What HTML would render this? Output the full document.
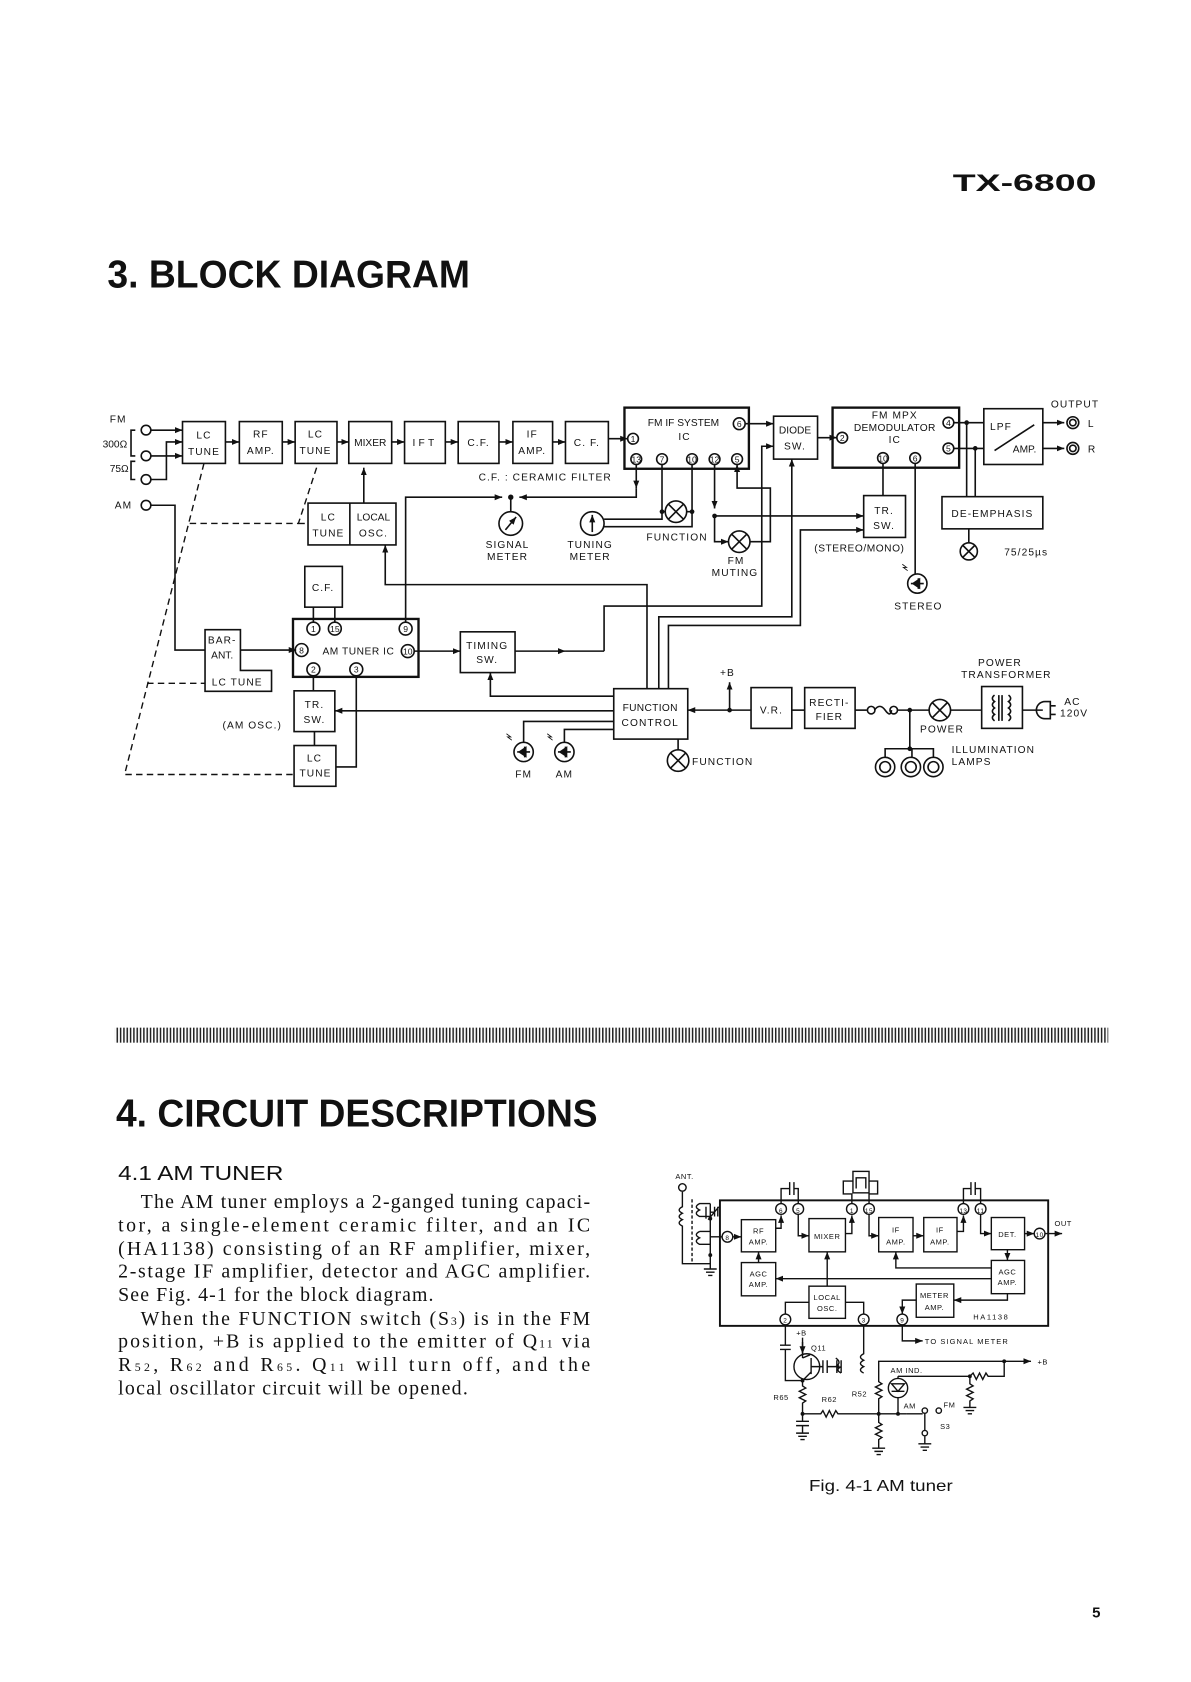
<!DOCTYPE html>
<html><head><meta charset="utf-8"><style>
html,body{margin:0;padding:0;background:#fff;}
svg{display:block;}
text{font-family:"Liberation Sans",sans-serif;fill:#111;}
.l{font-size:9.5px;letter-spacing:1px;text-anchor:middle;font-weight:500;}
.s{font-size:8px;text-anchor:middle;}
</style></head><body>
<svg width="1191" height="1682" viewBox="0 0 1110 1568" xmlns="http://www.w3.org/2000/svg">
<defs>
<marker id="a" viewBox="0 0 10 10" refX="10" refY="5" markerWidth="7" markerHeight="7" markerUnits="userSpaceOnUse" orient="auto"><path d="M0,1 L10,5 L0,9z" fill="#111"/></marker>
<pattern id="bar" width="3.1" height="20" patternUnits="userSpaceOnUse"><rect x="0" y="0" width="1.4" height="20" fill="#222"/></pattern>
</defs>
<rect width="1110" height="1568" fill="#fff"/>

<text x="888" y="178" font-size="22" font-weight="bold" textLength="134" lengthAdjust="spacingAndGlyphs">TX-6800</text>
<text x="100" y="268" font-size="36" font-weight="bold" textLength="338" lengthAdjust="spacingAndGlyphs">3. BLOCK DIAGRAM</text>

<g fill="none" stroke="#111" stroke-width="1.5">
<rect x="170" y="393" width="40" height="39"/>
<rect x="223" y="393" width="40" height="39"/>
<rect x="275" y="393" width="39" height="39"/>
<rect x="325" y="393" width="40" height="39"/>
<rect x="377" y="393" width="38" height="39"/>
<rect x="427" y="393" width="38" height="39"/>
<rect x="478" y="393" width="37" height="39"/>
<rect x="527" y="393" width="40" height="39"/>
<rect x="582" y="380" width="116" height="57" stroke-width="2.2"/>
<rect x="721" y="388" width="41" height="40"/>
<rect x="776" y="380" width="118" height="56" stroke-width="2.2"/>
<rect x="917" y="381" width="55" height="52"/>
<line x1="927" y1="420" x2="964" y2="396"/>
<rect x="878" y="463" width="94" height="30"/>
<rect x="805" y="462" width="39" height="39"/>
<circle cx="136" cy="401" r="4.5"/><circle cx="136" cy="425" r="4.5"/><circle cx="136" cy="447" r="4.5"/>
<circle cx="136" cy="471" r="4.5"/>
<path d="M126,401 h-4 v24 h4 M126,430 h-4 v17 h4"/>
<line x1="141" y1="401" x2="170" y2="401" marker-end="url(#a)"/>
<line x1="141" y1="425" x2="170" y2="425" marker-end="url(#a)"/>
<path d="M141,447 h14 v-35 h15" marker-end="url(#a)"/>
<line x1="210" y1="412" x2="223" y2="412" marker-end="url(#a)"/>
<line x1="263" y1="412" x2="275" y2="412" marker-end="url(#a)"/>
<line x1="314" y1="412" x2="325" y2="412" marker-end="url(#a)"/>
<line x1="365" y1="412" x2="377" y2="412" marker-end="url(#a)"/>
<line x1="415" y1="412" x2="427" y2="412" marker-end="url(#a)"/>
<line x1="465" y1="412" x2="478" y2="412" marker-end="url(#a)"/>
<line x1="515" y1="412" x2="527" y2="412" marker-end="url(#a)"/>
<line x1="567" y1="409" x2="585" y2="409" marker-end="url(#a)"/>
<circle cx="590" cy="409" r="5"/><circle cx="689" cy="395" r="5.5"/>
<circle cx="593" cy="428" r="5"/><circle cx="617" cy="428" r="5"/><circle cx="645" cy="428" r="5"/><circle cx="666" cy="428" r="5"/><circle cx="687" cy="428" r="5"/>
<line x1="695" y1="395" x2="721" y2="395" marker-end="url(#a)"/>
<line x1="762" y1="408" x2="780" y2="408" marker-end="url(#a)"/>
<circle cx="785" cy="408" r="5"/><circle cx="884" cy="394" r="5"/><circle cx="884" cy="418" r="5"/><circle cx="823" cy="427" r="5"/><circle cx="853" cy="427" r="5"/>
<line x1="889" y1="394" x2="917" y2="394"/><line x1="889" y1="418" x2="917" y2="418"/>
<line x1="901" y1="394" x2="901" y2="463"/><line x1="909" y1="418" x2="909" y2="463"/>
<line x1="972" y1="394" x2="992" y2="394" marker-end="url(#a)"/>
<line x1="972" y1="418" x2="992" y2="418" marker-end="url(#a)"/>
<circle cx="1000" cy="394" r="5.5"/><circle cx="1000" cy="394" r="3"/>
<circle cx="1000" cy="418" r="5.5"/><circle cx="1000" cy="418" r="3"/>
<line x1="903" y1="493" x2="903" y2="506"/>
<circle cx="903" cy="514" r="8"/><path d="M897.3,508.3 l11.4,11.4 M908.7,508.3 l-11.4,11.4"/>
<line x1="823" y1="432" x2="823" y2="462"/>
<line x1="853" y1="432" x2="853" y2="535"/>
<circle cx="855" cy="544" r="9"/><path d="M849,544 h12 M856,539 v10 M851,544 l6,-4 v8z" fill="#111"/>
<path d="M846,532 l-4,-3 l3,0 l-4,-3" stroke-width="0.8"/>
<line x1="593" y1="433" x2="593" y2="455" marker-end="url(#a)"/>
<path d="M593,455 V463.5 H484" marker-end="url(#a)"/>
<path d="M378,580 V463.5 H468" marker-end="url(#a)"/>
<line x1="476" y1="463.5" x2="476" y2="477"/>
<circle cx="476" cy="488" r="11"/><line x1="471" y1="494" x2="481" y2="482" marker-end="url(#a)"/>
<circle cx="552" cy="488" r="11"/><line x1="552" y1="496" x2="552" y2="480" marker-end="url(#a)"/>
<path d="M617,433 V484 H563"/>
<path d="M645,433 V491 H562"/>
<line x1="617" y1="477" x2="620" y2="477"/><line x1="640" y1="477" x2="645" y2="477"/>
<circle cx="630" cy="477" r="10"/><path d="M623,470 l14,14 M637,470 l-14,14"/>
<line x1="666" y1="433" x2="666" y2="474" marker-end="url(#a)"/>
<line x1="666" y1="481" x2="805" y2="481" marker-end="url(#a)"/>
<path d="M666,481 V505 H679" marker-end="url(#a)"/>
<circle cx="689" cy="505" r="10"/><path d="M682,498 l14,14 M696,498 l-14,14"/>
<path d="M699,505 H718 V455 H687 V433" marker-end="url(#a)"/>
<path d="M563,607 V565 H710 V416 H721" marker-end="url(#a)"/>
<line x1="480" y1="607" x2="527" y2="607" marker-end="url(#a)"/>
<line x1="527" y1="607" x2="563" y2="607"/>
<path d="M614,642 V575 H738 V428" marker-end="url(#a)"/>
<path d="M623,642 V583 H746 V494 H805" marker-end="url(#a)"/>
<path d="M603,642 V545 H359 V508" marker-end="url(#a)"/>
<path d="M141,471 H163 V606 H191"/>
<path d="M191,587 H224 V625 H253 V644.5 H191Z"/>
<line x1="224" y1="606" x2="276" y2="606" marker-end="url(#a)"/>
<rect x="273" y="577" width="117" height="54" stroke-width="2.2"/>
<circle cx="292" cy="586" r="6"/><circle cx="312" cy="586" r="6"/><circle cx="378" cy="586" r="6"/>
<circle cx="281" cy="606" r="6"/><circle cx="380" cy="607" r="6"/>
<circle cx="292" cy="624" r="6"/><circle cx="332" cy="624" r="6"/>
<rect x="284" y="528" width="35" height="38"/>
<line x1="292" y1="566" x2="292" y2="580"/><line x1="312" y1="566" x2="312" y2="580"/>
<line x1="386" y1="607" x2="429" y2="607" marker-end="url(#a)"/>
<rect x="429" y="589" width="51" height="38"/>
<rect x="287" y="469" width="82" height="39"/><line x1="326" y1="469" x2="326" y2="508"/>
<line x1="339" y1="469" x2="339" y2="436" marker-end="url(#a)"/>
<rect x="274" y="644" width="38" height="38"/>
<rect x="274" y="695" width="39" height="38"/>
<line x1="292" y1="630" x2="292" y2="644"/><line x1="293" y1="682" x2="293" y2="695"/>
<path d="M332,630 V715 H313"/>
<g stroke-dasharray="6,4" stroke-width="1.3">
<path d="M190,432 L116,722 H274"/>
<path d="M295,436 L278,488 H176"/>
<line x1="278" y1="488" x2="287" y2="488"/>
<line x1="137" y1="637" x2="191" y2="637"/>
</g>
<rect x="572" y="642" width="69" height="47"/>
<path d="M572,649 H457 V627" marker-end="url(#a)"/>
<line x1="572" y1="662.6" x2="312" y2="662.6" marker-end="url(#a)"/>
<path d="M572,672.5 H488 V692"/>
<path d="M572,680 H526 V692"/>
<circle cx="488" cy="701" r="9"/><path d="M482,701 h12 M489,696 v10 M484,701 l6,-4 v8z" fill="#111"/>
<circle cx="526" cy="701" r="9"/><path d="M520,701 h12 M527,696 v10 M522,701 l6,-4 v8z" fill="#111"/>
<path d="M477,690 l-4,-3 l3,0 l-4,-3 M515,690 l-4,-3 l3,0 l-4,-3" stroke-width="0.8"/>
<line x1="632" y1="689" x2="632" y2="699"/>
<circle cx="632" cy="709" r="10"/><path d="M625,702 l14,14 M639,702 l-14,14"/>
<line x1="700" y1="662" x2="641" y2="662" marker-end="url(#a)"/>
<line x1="680" y1="662" x2="680" y2="636" marker-end="url(#a)"/>
<rect x="700" y="641" width="38" height="38"/>
<rect x="750" y="641" width="47" height="38"/>
<line x1="738" y1="662" x2="750" y2="662"/>
<line x1="797" y1="662" x2="808" y2="662"/>
<circle cx="812" cy="662" r="3.5"/><circle cx="833" cy="662" r="3.5"/>
<path d="M815,662 q5,-7 10,0 t6,0"/>
<line x1="836.5" y1="662" x2="866" y2="662"/>
<circle cx="876" cy="662" r="10"/><path d="M869,655 l14,14 M883,655 l-14,14"/>
<line x1="886" y1="662" x2="915" y2="662"/>
<rect x="915" y="640" width="38" height="39"/>
<path d="M927,648 q-4,3 0,6 q-4,3 0,6 q-4,3 0,6 q-4,3 0,6 M931,648 v24 M934,648 v24 M940,648 q4,3 0,6 q4,3 0,6 q4,3 0,6 q4,3 0,6"/>
<line x1="953" y1="662" x2="972" y2="662"/>
<path d="M979,654 h-5 a8,8 0 0 0 0,16 h5 Z M979,658 h5 M979,666 h5"/>
<path d="M848,662 V698 M825,706 V698 H870 V706"/>
<line x1="850" y1="698" x2="850" y2="706"/>
<circle cx="825" cy="715" r="9"/><circle cx="849" cy="715" r="9"/><circle cx="870" cy="715" r="9"/>
<circle cx="825" cy="715" r="5"/><circle cx="849" cy="715" r="5"/><circle cx="870" cy="715" r="5"/>
</g>
<g fill="#111">
<circle cx="901" cy="394" r="2.2"/><circle cx="909" cy="418" r="2.2"/>
<circle cx="476" cy="463.5" r="2.5"/><circle cx="617" cy="477" r="2.2"/><circle cx="645" cy="477" r="2.2"/>
<circle cx="666" cy="481" r="2.2"/><circle cx="680" cy="662" r="2.2"/><circle cx="848" cy="662" r="2.2"/><circle cx="848" cy="698" r="2.2"/>
</g>
<g class="l">
<text x="190" y="409">LC</text><text x="190" y="424">TUNE</text>
<text x="243" y="408">RF</text><text x="243" y="423">AMP.</text>
<text x="294" y="408">LC</text><text x="294" y="423">TUNE</text>
<text x="345" y="416" letter-spacing="0">MIXER</text>
<text x="396" y="416" letter-spacing="3">IFT</text>
<text x="446" y="416">C.F.</text>
<text x="496" y="408">IF</text><text x="496" y="423">AMP.</text>
<text x="547" y="416">C. F.</text>
<text x="637" y="397" letter-spacing="0">FM IF SYSTEM</text><text x="638" y="410">IC</text>
<text x="741" y="404" letter-spacing="0">DIODE</text><text x="741" y="419">SW.</text>
<text x="834" y="390">FM MPX</text><text x="834" y="402" letter-spacing="0.3">DEMODULATOR</text><text x="834" y="413">IC</text>
<text x="933" y="401">LPF</text><text x="955" y="422" letter-spacing="0">AMP.</text>
<text x="1002" y="380">OUTPUT</text>
<text x="1014" y="398" text-anchor="start">L</text><text x="1014" y="422" text-anchor="start">R</text>
<text x="925" y="482">DE-EMPHASIS</text>
<text x="936" y="518" text-anchor="start">75/25µs</text>
<text x="824" y="479">TR.</text><text x="824" y="493">SW.</text>
<text x="801" y="514" letter-spacing="0.5">(STEREO/MONO)</text>
<text x="856" y="568">STEREO</text>
<text x="446" y="448" text-anchor="start">C.F. : CERAMIC FILTER</text>
<text x="473" y="511">SIGNAL</text><text x="473" y="522">METER</text>
<text x="550" y="511">TUNING</text><text x="550" y="522">METER</text>
<text x="631" y="504">FUNCTION</text>
<text x="686" y="526">FM</text><text x="685" y="537">MUTING</text>
<text x="110" y="394">FM</text>
<text x="107" y="417" letter-spacing="0">300Ω</text>
<text x="111" y="440" letter-spacing="0">75Ω</text>
<text x="115" y="474">AM</text>
<text x="306" y="485">LC</text><text x="306" y="500">TUNE</text>
<text x="348" y="485" letter-spacing="0">LOCAL</text><text x="348" y="500">OSC.</text>
<text x="301" y="551">C.F.</text>
<text x="207" y="600">BAR-</text><text x="207" y="614" letter-spacing="0">ANT.</text>
<text x="221" y="639">LC TUNE</text>
<text x="334" y="610" letter-spacing="0.5">AM TUNER IC</text>
<text x="454" y="605">TIMING</text><text x="454" y="618">SW.</text>
<text x="293" y="660">TR.</text><text x="293" y="674">SW.</text>
<text x="293" y="710">LC</text><text x="294" y="724">TUNE</text>
<text x="235" y="679">(AM OSC.)</text>
<text x="488" y="725">FM</text><text x="526" y="725">AM</text>
<text x="606" y="663" letter-spacing="0.3">FUNCTION</text><text x="606" y="677">CONTROL</text>
<text x="645" y="713" text-anchor="start">FUNCTION</text>
<text x="678" y="630">+B</text>
<text x="719" y="665">V.R.</text>
<text x="773" y="658">RECTI-</text><text x="773" y="671">FIER</text>
<text x="932" y="621">POWER</text><text x="938" y="632">TRANSFORMER</text>
<text x="878" y="683">POWER</text>
<text x="992" y="657" text-anchor="start">AC</text><text x="988" y="668" text-anchor="start">120V</text>
<text x="887" y="702" text-anchor="start">ILLUMINATION</text><text x="887" y="713" text-anchor="start">LAMPS</text>
</g>
<g font-size="8" text-anchor="middle">
<text x="590" y="412">1</text><text x="689" y="398">6</text>
<text x="593" y="431">13</text><text x="617" y="431">7</text><text x="645" y="431">10</text><text x="666" y="431">12</text><text x="687" y="431">5</text>
<text x="785" y="411">2</text><text x="884" y="397">4</text><text x="884" y="421">5</text><text x="823" y="430">10</text><text x="853" y="430">6</text>
<text x="292" y="589">1</text><text x="312" y="589">15</text><text x="378" y="589">9</text><text x="281" y="609">8</text><text x="380" y="610">10</text>
<text x="292" y="627">2</text><text x="332" y="627">3</text>
</g>

<rect x="107" y="958" width="926" height="14" fill="url(#bar)"/>

<text x="108" y="1050" font-size="36" font-weight="bold" textLength="449" lengthAdjust="spacingAndGlyphs">4. CIRCUIT DESCRIPTIONS</text>
<text x="110" y="1100" font-size="19" textLength="154" lengthAdjust="spacingAndGlyphs">4.1  AM TUNER</text>
<g style="font-family:'Liberation Serif',serif;font-size:18.5px;">
<text style="font-family:'Liberation Serif',serif" x="131" y="1126" textLength="419" lengthAdjust="spacing">The AM tuner employs a 2-ganged tuning capaci-</text>
<text style="font-family:'Liberation Serif',serif" x="110" y="1148" textLength="440" lengthAdjust="spacing">tor, a single-element ceramic filter, and an IC</text>
<text style="font-family:'Liberation Serif',serif" x="110" y="1170" textLength="440" lengthAdjust="spacing">(HA1138) consisting of an RF amplifier, mixer,</text>
<text style="font-family:'Liberation Serif',serif" x="110" y="1191" textLength="440" lengthAdjust="spacing">2-stage IF amplifier, detector and AGC amplifier.</text>
<text style="font-family:'Liberation Serif',serif" x="110" y="1213" textLength="294" lengthAdjust="spacing">See Fig. 4-1 for the block diagram.</text>
<text style="font-family:'Liberation Serif',serif" x="131" y="1235" textLength="419" lengthAdjust="spacing">When the FUNCTION switch (S<tspan font-size="11">3</tspan>) is in the FM</text>
<text style="font-family:'Liberation Serif',serif" x="110" y="1256" textLength="440" lengthAdjust="spacing">position, +B is applied to the emitter of Q<tspan font-size="11">11</tspan> via</text>
<text style="font-family:'Liberation Serif',serif" x="110" y="1278" textLength="440" lengthAdjust="spacing">R<tspan font-size="11">52</tspan>, R<tspan font-size="11">62</tspan> and R<tspan font-size="11">65</tspan>.  Q<tspan font-size="11">11</tspan> will turn off, and the</text>
<text style="font-family:'Liberation Serif',serif" x="110" y="1300" textLength="326" lengthAdjust="spacing">local oscillator circuit will be opened.</text>
</g>

<g fill="none" stroke="#111" stroke-width="1.3">
<rect x="671" y="1119" width="306" height="117" stroke-width="1.8"/>
<rect x="691" y="1137" width="32" height="30"/>
<rect x="691" y="1177" width="32" height="31"/>
<rect x="754" y="1136" width="34" height="31"/>
<rect x="754" y="1199" width="34" height="30"/>
<rect x="819" y="1135" width="32" height="32"/>
<rect x="861" y="1135" width="31" height="32"/>
<rect x="924" y="1135" width="31" height="30"/>
<rect x="924" y="1175" width="31" height="31"/>
<rect x="854" y="1197" width="35" height="31"/>
<circle cx="728" cy="1127" r="5" fill="#fff"/><circle cx="744" cy="1127" r="5" fill="#fff"/>
<circle cx="794" cy="1127" r="5" fill="#fff"/><circle cx="810" cy="1127" r="5" fill="#fff"/>
<circle cx="898" cy="1127" r="5" fill="#fff"/><circle cx="914" cy="1127" r="5" fill="#fff"/>
<circle cx="678" cy="1153" r="5" fill="#fff"/><circle cx="969" cy="1150" r="5" fill="#fff"/>
<circle cx="732" cy="1230" r="5" fill="#fff"/><circle cx="805" cy="1230" r="5" fill="#fff"/><circle cx="841" cy="1230" r="5" fill="#fff"/>
<line x1="683" y1="1153" x2="691" y2="1153" marker-end="url(#a)"/>
<path d="M723,1145 H728 V1133" marker-end="url(#a)"/>
<path d="M744,1132 V1152 H754" marker-end="url(#a)"/>
<path d="M788,1150 H794 V1133" marker-end="url(#a)"/>
<path d="M810,1132 V1152 H819" marker-end="url(#a)"/>
<line x1="851" y1="1152" x2="861" y2="1152" marker-end="url(#a)"/>
<path d="M892,1148 H898 V1133" marker-end="url(#a)"/>
<path d="M914,1132 V1150 H924" marker-end="url(#a)"/>
<line x1="955" y1="1150" x2="964" y2="1150" marker-end="url(#a)"/>
<line x1="974" y1="1150" x2="990" y2="1150" marker-end="url(#a)"/>
<line x1="939" y1="1165" x2="939" y2="1175" marker-end="url(#a)"/>
<path d="M924,1182 H835 V1167" marker-end="url(#a)"/>
<line x1="924" y1="1192" x2="723" y2="1192" marker-end="url(#a)"/>
<line x1="707" y1="1177" x2="707" y2="1167" marker-end="url(#a)"/>
<line x1="771" y1="1199" x2="771" y2="1167" marker-end="url(#a)"/>
<path d="M939,1206 V1212 H889" marker-end="url(#a)"/>
<path d="M854,1212 H841 V1225" marker-end="url(#a)"/>
<path d="M754,1214 H732 V1225 M788,1214 H805 V1225"/>
<path d="M841,1235 V1250 H860" marker-end="url(#a)"/>
<path d="M728,1122 V1108 H736 M740,1108 H744 V1122 M736,1102 v12 M740,1102 v12"/>
<path d="M898,1122 V1108 H905 M909,1108 H914 V1122 M905,1102 v12 M909,1102 v12"/>
<path d="M794,1122 V1113 H786 V1101 H795 M810,1101 H818 V1113 H810 V1122"/>
<rect x="795" y="1092" width="15" height="20"/><path d="M798,1108 V1098 H807 V1108"/>
<circle cx="636" cy="1107" r="3.5"/>
<path d="M636,1111 V1125 q-6,3 0,6 q-6,3 0,6 q-6,3 0,6 V1178 H662"/>
<line x1="645" y1="1118" x2="645" y2="1178" stroke-dasharray="3,2"/>
<path d="M662,1122 H652 q-6,3 0,6 q-6,3 0,6 H662 M652,1148 q-6,3 0,6 q-6,3 0,6 H662 M652,1148 H662"/>
<path d="M662,1122 V1183 M658,1125 v11 M662,1153 H673"/>
<path d="M666,1125 v9 M669,1125 v9 M662,1130 h4 M660,1137 l10,-12"/>
<path d="M656,1183 h12 M658,1186 h8 M660,1189 h4"/>
<path d="M732,1235 V1254 M727,1254 h10 M727,1258 h10 M732,1258 V1287 H748"/>
<circle cx="752" cy="1274" r="12"/>
<path d="M748,1251 V1266 M748,1266 l7,-3 M756,1266 v15 M748,1287 l8,-8 M756,1274 H767"/>
<line x1="748" y1="1247" x2="748" y2="1262" marker-end="url(#a)"/>
<path d="M767,1268 v12 M771,1268 v12 M771,1274 H779 q6,-4 0,-8 M780,1268 v12 M784,1268 v12 M784,1274 q-6,3 0,6"/>
<path d="M805,1235 V1262 q-6,3 0,6 q-6,3 0,6 q-6,3 0,6"/>
<path d="M748,1287 V1292 l3,2 l-6,3 l6,3 l-6,3 l6,3 l-3,2 V1318 M742,1325 h12 M742,1329 h12 M748,1318 V1325 M748,1329 V1336 M742,1336 h12 M744,1339 h8 M746,1342 h4"/>
<path d="M748,1318 H765 l2,-3 l3,6 l3,-6 l3,6 l3,-6 l2,3 H845"/>
<path d="M819,1318 V1326 l3,2 l-6,3 l6,3 l-6,3 l6,3 l-3,2 V1350 M813,1350 h12 M815,1353 h8 M817,1356 h4"/>
<path d="M819,1318 V1304 l3,-2 l-6,-3 l6,-3 l-6,-3 l6,-3 l-3,-2 V1269 H961" marker-end="url(#a)"/>
<circle cx="837" cy="1294" r="9"/><path d="M831,1290 h12 l-6,7z M831,1297 h12 M837,1283 V1285 M837,1303 V1318"/>
<path d="M837,1283 H904 M904,1283 l3,-3 l3,6 l3,-6 l3,6 l3,-6 l2,3 H936 V1269"/>
<path d="M904,1283 V1290 l3,2 l-6,3 l6,3 l-6,3 l6,3 l-3,2 V1312 M898,1312 h12 M900,1315 h8 M902,1318 h4"/>
<circle cx="862" cy="1315" r="2.5"/><circle cx="875" cy="1315" r="2.5"/>
<path d="M845,1318 H860 M862,1317 L862,1334"/><circle cx="862" cy="1336" r="2.5"/>
<path d="M862,1339 V1346 M856,1346 h12 M858,1349 h8 M860,1352 h4"/>
</g>
<g fill="#111"><circle cx="662" cy="1136" r="1.8"/><circle cx="662" cy="1170" r="1.8"/><circle cx="748" cy="1287" r="1.8"/><circle cx="748" cy="1318" r="1.8"/><circle cx="819" cy="1318" r="1.8"/><circle cx="837" cy="1318" r="1.8"/><circle cx="936" cy="1269" r="1.8"/><circle cx="904" cy="1283" r="1.8"/><circle cx="781" cy="1274" r="1.5"/></g>
<g font-size="7" text-anchor="middle" letter-spacing="0.5">
<text x="707" y="1150">RF</text><text x="707" y="1160">AMP.</text>
<text x="707" y="1190">AGC</text><text x="707" y="1200">AMP.</text>
<text x="771" y="1155">MIXER</text>
<text x="771" y="1212">LOCAL</text><text x="771" y="1222">OSC.</text>
<text x="835" y="1149">IF</text><text x="835" y="1160">AMP.</text>
<text x="876" y="1149">IF</text><text x="876" y="1160">AMP.</text>
<text x="939" y="1153">DET.</text>
<text x="939" y="1188">AGC</text><text x="939" y="1198">AMP.</text>
<text x="871" y="1210">METER</text><text x="871" y="1221">AMP.</text>
<text x="924" y="1230" letter-spacing="1.5">HA1138</text>
<text x="638" y="1099">ANT.</text>
<text x="991" y="1143">OUT</text>
<text x="862" y="1253" text-anchor="start" letter-spacing="1">TO SIGNAL METER</text>
<text x="747" y="1245">+B</text><text x="763" y="1259">Q11</text>
<text x="728" y="1305">R65</text><text x="773" y="1307">R62</text><text x="801" y="1302">R52</text>
<text x="845" y="1280">AM IND.</text>
<text x="848" y="1313">AM</text><text x="885" y="1312">FM</text>
<text x="881" y="1332">S3</text>
<text x="967" y="1272" text-anchor="start">+B</text>
<text x="728" y="1131" font-size="6">6</text><text x="744" y="1131" font-size="6">5</text>
<text x="794" y="1131" font-size="6">1</text><text x="810" y="1131" font-size="6">15</text>
<text x="898" y="1131" font-size="6">13</text><text x="914" y="1131" font-size="6">11</text>
<text x="678" y="1156" font-size="6">8</text><text x="969" y="1153" font-size="6">10</text>
<text x="732" y="1233" font-size="6">2</text><text x="805" y="1233" font-size="6">3</text><text x="841" y="1233" font-size="6">9</text>
</g>
<text x="754" y="1390" font-size="15" textLength="134" lengthAdjust="spacingAndGlyphs">Fig. 4-1  AM tuner</text>
<text x="1018" y="1508" font-size="14" font-weight="bold">5</text>
</svg>
</body></html>
